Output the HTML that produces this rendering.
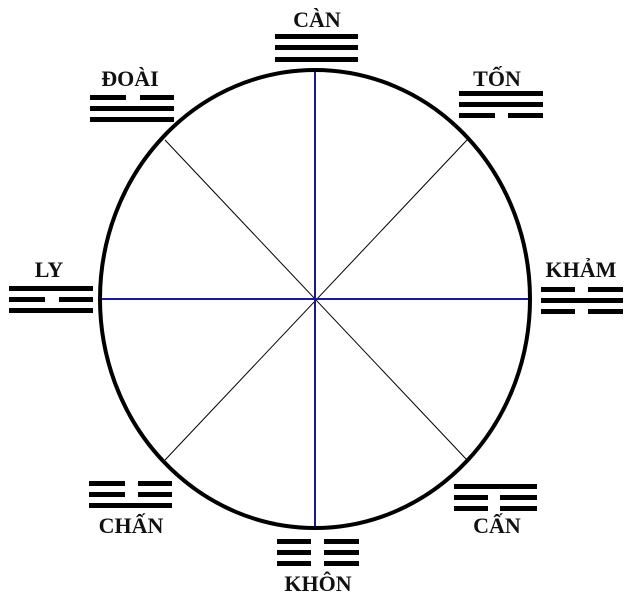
<!DOCTYPE html>
<html><head><meta charset="utf-8"><style>
body{margin:0;background:#fff}
svg{display:block}
text{font-family:"Liberation Serif",serif;font-weight:bold;font-size:22px;fill:#111;text-anchor:middle}
</style></head><body>
<svg width="632" height="601" viewBox="0 0 632 601">
<g stroke="#000" stroke-width="1">
<line x1="165" y1="140" x2="467" y2="460"/>
<line x1="467" y1="140" x2="165" y2="460"/>
</g>
<g stroke="#1a1a8c" stroke-width="2">
<line x1="315" y1="70" x2="315" y2="528"/>
<line x1="100" y1="299" x2="530" y2="299"/>
</g>
<ellipse cx="315" cy="299" rx="215" ry="229" fill="none" stroke="#000" stroke-width="4"/>
<g fill="#000">
<rect x="275" y="34" width="83" height="5"/><rect x="275" y="45" width="83" height="5"/><rect x="275" y="57" width="83" height="5"/>
<rect x="90" y="95" width="36" height="5"/><rect x="140" y="95" width="34" height="5"/>
<rect x="90" y="106" width="84" height="5"/><rect x="90" y="117" width="84" height="5"/>
<rect x="459" y="91" width="84" height="5"/><rect x="459" y="102" width="84" height="5"/>
<rect x="459" y="113" width="36" height="5"/><rect x="508" y="113" width="35" height="5"/>
<rect x="9" y="286" width="84" height="5"/>
<rect x="9" y="297" width="36" height="5"/><rect x="59" y="297" width="34" height="5"/>
<rect x="9" y="308" width="84" height="5"/>
<rect x="541" y="287" width="34" height="5"/><rect x="588" y="287" width="35" height="5"/>
<rect x="541" y="298" width="82" height="5"/>
<rect x="541" y="309" width="34" height="5"/><rect x="588" y="309" width="35" height="5"/>
<rect x="89" y="481" width="36" height="5"/><rect x="138" y="481" width="34" height="5"/>
<rect x="89" y="492" width="36" height="5"/><rect x="138" y="492" width="34" height="5"/>
<rect x="89" y="503" width="83" height="5"/>
<rect x="277" y="539" width="34" height="5"/><rect x="324" y="539" width="35" height="5"/>
<rect x="277" y="550" width="34" height="5"/><rect x="324" y="550" width="35" height="5"/>
<rect x="277" y="561" width="34" height="5"/><rect x="324" y="561" width="35" height="5"/>
<rect x="454" y="484" width="83" height="5"/>
<rect x="454" y="495" width="34" height="5"/><rect x="500" y="495" width="37" height="5"/>
<rect x="454" y="506" width="34" height="5"/><rect x="500" y="506" width="37" height="5"/>
</g>
<text x="317" y="27">CÀN</text>
<text x="130" y="86">ĐOÀI</text>
<text x="497" y="86">TỐN</text>
<text x="49" y="277">LY</text>
<text x="581" y="277">KHẢM</text>
<text x="131" y="533">CHẤN</text>
<text x="318" y="591">KHÔN</text>
<text x="497" y="533">CẤN</text>
</svg>
</body></html>
